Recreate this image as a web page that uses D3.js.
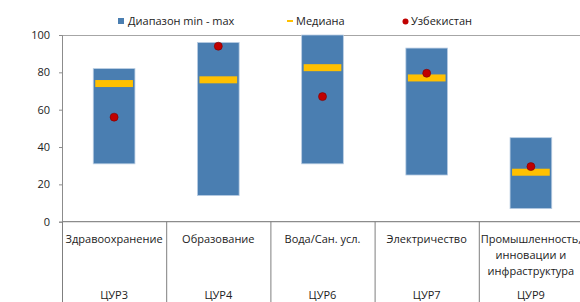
<!DOCTYPE html>
<meta charset="utf-8">
<script src="https://d3js.org/d3.v7.min.js"></script>
<style>
  body { margin: 0; background: #fff; }
  text { font-family: "Open Sans", sans-serif; fill: #222; }
</style>
<div id="chart"></div>
<script>
  // values
  const categories = ["Здравоохранение", "Образование", "Вода/Сан. усл.", "Электричество", "Промышленность, инновации и инфраструктура"];
  const categoryLines = [["Здравоохранение"], ["Образование"], ["Вода/Сан. усл."], ["Электричество"], ["Промышленность,", "инновации и", "инфраструктура"]];
  const goals = ["ЦУР3", "ЦУР4", "ЦУР6", "ЦУР7", "ЦУР9"];
  const minValues = [31, 14, 31, 25, 7];
  const maxValues = [82, 96, 100, 93, 45];
  const medianValues = [74, 76, 82.5, 77, 26.5];
  const uzbValues = [56, 94, 67, 79.5, 29.5];
  const yTicks = [0, 20, 40, 60, 80, 100];

  const width = 580, height = 302;
  const margin = { top: 35, left: 62, bottom: 80 };
  const plotRight = 583;

  const svg = d3.select("#chart").append("svg")
    .attr("width", width)
    .attr("height", height);

  const x = d3.scaleBand()
    .domain(categories)
    .range([margin.left, plotRight])
    .paddingInner(0)
    .paddingOuter(0);

  const y = d3.scaleLinear()
    .domain([0, 100])
    .range([height - margin.bottom - 0.3, margin.top]);

  const data = categories.map((c, i) => ({
    cat: c, min: minValues[i], max: maxValues[i], med: medianValues[i], uzb: uzbValues[i]
  }));

  // frame: top line
  svg.append("line")
    .attr("x1", margin.left).attr("x2", plotRight)
    .attr("y1", y(100) + 0.5).attr("y2", y(100) + 0.5)
    .attr("stroke", "#a6a6a6").attr("stroke-width", 1.2);

  // y axis
  const yAxis = svg.append("g")
    .attr("transform", `translate(${margin.left},0)`)
    .call(d3.axisLeft(y).tickValues(yTicks).tickSize(3).tickPadding(9));
  yAxis.select(".domain").attr("stroke", "#8c8c8c");
  yAxis.selectAll(".tick line").attr("stroke", "#8c8c8c");
  yAxis.selectAll("text").style("font-size", "11px").attr("fill", "#222").style("font-family", "Open Sans");

  // x baseline + category dividers
  svg.append("line")
    .attr("x1", margin.left).attr("x2", plotRight)
    .attr("y1", y(0)).attr("y2", y(0))
    .attr("stroke", "#8c8c8c").attr("stroke-width", 1.2);

  svg.selectAll(".divider")
    .data(categories)
    .join("line")
    .attr("class", "divider")
    .attr("x1", d => x(d) + 0.5).attr("x2", d => x(d) + 0.5)
    .attr("y1", y(0)).attr("y2", height)
    .attr("stroke", "#7f7f7f").attr("stroke-width", 1);

  // range bars
  const barW = x.bandwidth() * 0.4;
  svg.selectAll(".range")
    .data(data)
    .join("rect")
    .attr("class", "range")
    .attr("x", d => x(d.cat) + x.bandwidth() / 2 - barW / 2)
    .attr("width", barW)
    .attr("y", d => y(d.max))
    .attr("height", d => y(d.min) - y(d.max))
    .attr("fill", "#4a7eb1")
    .attr("stroke", "#b9cde3")
    .attr("stroke-width", 0.8);

  // median markers
  const medW = barW - 4;
  svg.selectAll(".median")
    .data(data)
    .join("rect")
    .attr("class", "median")
    .attr("x", d => x(d.cat) + x.bandwidth() / 2 - medW / 2)
    .attr("width", medW)
    .attr("y", d => y(d.med) - 3.5)
    .attr("height", 7)
    .attr("fill", "#ffc000");

  // Uzbekistan dots
  svg.selectAll(".uzb")
    .data(data)
    .join("circle")
    .attr("class", "uzb")
    .attr("cx", d => x(d.cat) + x.bandwidth() / 2)
    .attr("cy", d => y(d.uzb))
    .attr("r", 4)
    .attr("fill", "#c00000")
    .attr("stroke", "#7a0000")
    .attr("stroke-width", 0.6);

  // category labels
  const labels = svg.selectAll(".catlabel")
    .data(categoryLines)
    .join("text")
    .attr("class", "catlabel")
    .attr("text-anchor", "middle")
    .style("font-size", "11px");
  labels.each(function (lines, i) {
    d3.select(this).selectAll("tspan")
      .data(lines)
      .join("tspan")
      .attr("x", x(categories[i]) + x.bandwidth() / 2)
      .attr("y", (d, j) => 243 + j * 16)
      .text(d => d);
  });

  svg.selectAll(".goal")
    .data(goals)
    .join("text")
    .attr("class", "goal")
    .attr("text-anchor", "middle")
    .attr("x", (d, i) => x(categories[i]) + x.bandwidth() / 2)
    .attr("y", 299)
    .style("font-size", "11px")
    .text(d => d);

  // legend
  const legend = svg.append("g").style("font-size", "11px");
  legend.append("rect").attr("x", 118).attr("y", 18).attr("width", 6).attr("height", 6).attr("fill", "#4a7eb1");
  legend.append("text").attr("x", 128).attr("y", 25).text("Диапазон min - max");
  legend.append("rect").attr("x", 287).attr("y", 20).attr("width", 6).attr("height", 2).attr("fill", "#ffc000");
  legend.append("text").attr("x", 296).attr("y", 25).text("Медиана");
  legend.append("circle").attr("cx", 405.5).attr("cy", 21.5).attr("r", 3).attr("fill", "#c00000");
  legend.append("text").attr("x", 411).attr("y", 25).text("Узбекистан");
</script>
